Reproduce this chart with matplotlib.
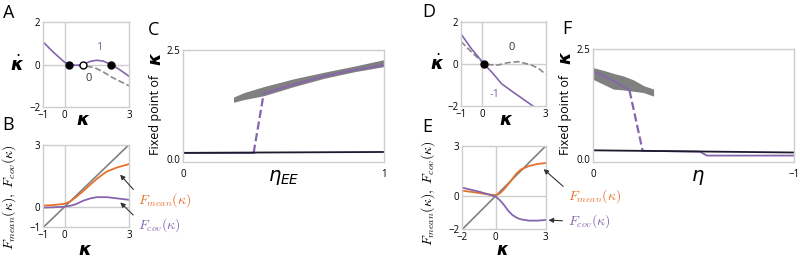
import numpy as np
import matplotlib.pyplot as plt

plt.rcParams["font.family"] = ["Open Sans", "DejaVu Sans"]

PURPLE = "#8566ad"
ORANGE = "#e5722c"
GRAY = "#808080"
LIGHT = "#cdcdcd"
DARK = "#1c1a2c"

# %%
# Panel A: kappa dot vs kappa (eta = 1 solid, eta = 0 dashed)
a_k1 = [-1, -0.5, 0, 0.22, 0.5, 0.85, 1.2, 1.5, 1.8, 2.15, 2.5, 3]
a_v1 = [1.05, 0.55, 0.1, 0, -0.04, 0, 0.15, 0.2, 0.16, 0, -0.2, -0.55]
a_k0 = [0.2, 0.6, 1.0, 1.4, 1.8, 2.2, 2.6, 3]
a_v0 = [0, -0.05, -0.08, -0.15, -0.35, -0.6, -0.8, -1.0]
a_stable = [0.22, 2.15]
a_unstable = [0.85]

# Panel B: transfer functions
b_k = [-1, -0.5, 0, 0.25, 0.5, 0.87, 1.2, 1.5, 1.96, 2.45, 3]
b_mean = [0.05, 0.08, 0.14, 0.25, 0.44, 0.76, 1.07, 1.35, 1.7, 1.9, 2.06]
b_cov = [-0.05, -0.03, 0.0, 0.04, 0.11, 0.29, 0.4, 0.46, 0.46, 0.4, 0.33]

# Panel C: fixed points vs eta_EE
c_band_eta = [0.25, 0.3, 0.4, 0.55, 0.7, 0.85, 1.0]
c_band_lo = [1.3, 1.36, 1.45, 1.66, 1.85, 2.0, 2.12]
c_band_hi = [1.42, 1.52, 1.66, 1.84, 1.99, 2.13, 2.28]
c_hi_eta = [0.4, 0.55, 0.7, 0.85, 1.0]
c_hi_k = [1.5, 1.71, 1.9, 2.04, 2.16]
c_lo_eta = [0, 0.35]
c_lo_k = [0.14, 0.14]
c_un_eta = [0.35, 0.4]
c_un_k = [0.14, 1.5]
c_mf_eta = [0, 1]
c_mf_k = [0.14, 0.16]

# Panel D: kappa dot vs kappa (eta = -1 solid, eta = 0 dashed)
d_k1 = [-1, -0.5, 0, 0.08, 0.5, 0.92, 1.4, 1.9, 2.4]
d_v1 = [1.41, 0.7, 0.1, 0, -0.45, -0.95, -1.3, -1.65, -2.0]
d_k0 = [-1, -0.5, 0, 0.08, 0.4, 0.76, 1.2, 1.7, 2.33, 2.7, 3]
d_v0 = [1.05, 0.55, 0.08, 0, -0.05, -0.06, 0.05, 0.1, -0.06, -0.25, -0.5]
d_stable = [0.08]

# Panel E: transfer functions
e_k = [-2, -1.5, -1, -0.5, 0, 0.25, 0.5, 0.75, 1, 1.25, 1.5, 2, 2.5, 3]
e_mean = [0.32, 0.25, 0.18, 0.1, 0.05, 0.15, 0.4, 0.7, 1.02, 1.35, 1.58, 1.8, 1.92, 1.98]
e_cov = [0.5, 0.38, 0.26, 0.12, -0.04, -0.25, -0.54, -0.88, -1.14, -1.3, -1.4, -1.48, -1.48, -1.44]

# Panel F: fixed points vs eta
f_band_eta = [0, -0.05, -0.1, -0.15, -0.2, -0.25, -0.3]
f_band_lo = [1.81, 1.7, 1.59, 1.57, 1.54, 1.51, 1.43]
f_band_hi = [2.08, 2.02, 1.95, 1.89, 1.8, 1.67, 1.59]
f_hi_eta = [0, -0.1, -0.18]
f_hi_k = [2.0, 1.78, 1.56]
f_un_eta = [-0.18, -0.245]
f_un_k = [1.56, 0.19]
f_lo_eta = [-0.245, -0.53, -0.565, -1]
f_lo_k = [0.18, 0.16, 0.07, 0.07]
f_mf_eta = [0, -1]
f_mf_k = [0.19, 0.14]

W, H = 800, 258
fig = plt.figure(figsize=(W / 100, H / 100), dpi=100)


def px_axes(l, t, r, b):
    ax = fig.add_axes([l / W, 1 - b / H, (r - l) / W, (b - t) / H])
    for s in ax.spines.values():
        s.set_color(LIGHT)
        s.set_linewidth(1.0)
    ax.tick_params(length=0, labelsize=7, pad=2)
    return ax


def letter(x, y, s):
    fig.text(x / W, 1 - y / H, s, fontsize=13, ha="left", va="center")


def xlab(ax, s, x, y, size=13):
    ax.set_xlabel(s, fontsize=size, va="center")
    ax.xaxis.set_label_coords(x, y)


kap = r"$\boldsymbol{\kappa}$"
kdot = r"$\dot{\boldsymbol{\kappa}}$"

# %%
# A
ax = px_axes(43.3, 22, 129, 107)
ax.axhline(0, color=LIGHT, lw=1, zorder=0)
ax.axvline(0, color=LIGHT, lw=1, zorder=0)
ax.plot(a_k0, a_v0, color="#8a8a8a", ls="--", lw=1.2)
ax.plot(a_k1, a_v1, color=PURPLE, lw=1.2)
ax.plot(a_stable, [0] * len(a_stable), "o", ms=5, color="k", zorder=5)
ax.plot(a_unstable, [0] * len(a_unstable), "o", ms=5, mfc="white", mec="k", mew=1, zorder=5)
ax.text(1.6, 0.8, "1", color=PURPLE, fontsize=8, ha="center", va="center")
ax.text(1.1, -0.68, "0", color="#333333", fontsize=8, ha="center", va="center")
ax.set(xlim=(-1, 3), ylim=(-2, 2), xticks=[-1, 0, 3], yticks=[-2, 0, 2])
ax.set_ylabel(kdot, fontsize=13, rotation=0, va="center", ha="center")
ax.yaxis.set_label_coords(-0.31, 0.5)
xlab(ax, kap, 0.46, -0.15)

# B
ax = px_axes(43.3, 144.7, 129, 227.3)
ax.axhline(0, color=LIGHT, lw=1, zorder=0)
ax.axvline(0, color=LIGHT, lw=1, zorder=0)
ax.plot([-1, 3], [-1, 3], color=GRAY, lw=1.2)
ax.plot(b_k, b_mean, color=ORANGE, lw=1.3)
ax.plot(b_k, b_cov, color=PURPLE, lw=1.3)
ax.set(xlim=(-1, 3), ylim=(-1, 3), xticks=[-1, 0, 3], yticks=[-1, 0, 3])
ax.set_ylabel(r"$F_{mean}(\kappa),\ F_{cov}(\kappa)$", fontsize=10, math_fontfamily="cm")
ax.yaxis.set_label_coords(-0.3, 0.36)
xlab(ax, kap, 0.49, -0.27)
arrow = dict(arrowstyle="-|>", color="#333333", lw=0.8, mutation_scale=7, relpos=(0, 0.8))
ax.annotate(r"$F_{mean}(\kappa)$", xy=(2.5, 1.65), xytext=(138, H - 200),
            textcoords="figure pixels", color=ORANGE, fontsize=10, math_fontfamily="cm",
            va="center", arrowprops=arrow, annotation_clip=False)
ax.annotate(r"$F_{cov}(\kappa)$", xy=(2.5, 0.3), xytext=(138, H - 225),
            textcoords="figure pixels", color=PURPLE, fontsize=10, math_fontfamily="cm",
            va="center", arrowprops=arrow, annotation_clip=False)

# C
ax = px_axes(183.3, 50, 384.3, 162)
ax.fill_between(c_band_eta, c_band_lo, c_band_hi, color=GRAY, lw=0)
ax.plot(c_hi_eta, c_hi_k, color=PURPLE, lw=1.3)
ax.plot(c_un_eta, c_un_k, color=PURPLE, ls="--", lw=1.6)
ax.plot(c_lo_eta, c_lo_k, color=PURPLE, lw=1.3)
ax.plot(c_mf_eta, c_mf_k, color=DARK, lw=1.3)
ax.set(xlim=(0, 1), ylim=(-0.07, 2.5), xticks=[0, 1], yticks=[0, 2.5])
ax.set_yticklabels(["0.0", "2.5"])
ax.tick_params(axis="x", pad=5)
xlab(ax, r"$\eta_{EE}$", 0.5, -0.14, size=14)
ax.text(-0.136, 0.42, "Fixed point of", rotation=90, fontsize=9, transform=ax.transAxes,
        ha="center", va="center")
ax.text(-0.136, 0.92, kap, rotation=90, fontsize=13, transform=ax.transAxes,
        ha="center", va="center")

# D
ax = px_axes(461, 21.5, 545.7, 106)
ax.axhline(0, color=LIGHT, lw=1, zorder=0)
ax.axvline(0, color=LIGHT, lw=1, zorder=0)
ax.plot(d_k0, d_v0, color="#8a8a8a", ls="--", lw=1.2)
ax.plot(d_k1, d_v1, color=PURPLE, lw=1.2)
ax.plot(d_stable, [0] * len(d_stable), "o", ms=5, color="k", zorder=5)
ax.text(1.41, 0.78, "0", color="#333333", fontsize=8, ha="center", va="center")
ax.text(0.57, -1.44, "-1", color=PURPLE, fontsize=8, ha="center", va="center")
ax.set(xlim=(-1, 3), ylim=(-2, 2), xticks=[-1, 0, 3], yticks=[-2, 0, 2])
ax.set_ylabel(kdot, fontsize=13, rotation=0, va="center", ha="center")
ax.yaxis.set_label_coords(-0.28, 0.5)
xlab(ax, kap, 0.53, -0.16)

# E
ax = px_axes(462.3, 146, 545.7, 229.3)
ax.axhline(0, color=LIGHT, lw=1, zorder=0)
ax.axvline(0, color=LIGHT, lw=1, zorder=0)
ax.plot([-2, 3], [-2, 3], color=GRAY, lw=1.2)
ax.plot(e_k, e_mean, color=ORANGE, lw=1.3)
ax.plot(e_k, e_cov, color=PURPLE, lw=1.3)
ax.set(xlim=(-2, 3), ylim=(-2, 3), xticks=[-2, 0, 3], yticks=[-2, 0, 3])
ax.set_ylabel(r"$F_{mean}(\kappa),\ F_{cov}(\kappa)$", fontsize=10, math_fontfamily="cm")
ax.yaxis.set_label_coords(-0.3, 0.44)
xlab(ax, kap, 0.48, -0.26, size=12)
ax.annotate(r"$F_{mean}(\kappa)$", xy=(2.75, 1.72), xytext=(568, H - 196),
            textcoords="figure pixels", color=ORANGE, fontsize=10, math_fontfamily="cm",
            va="center", arrowprops=arrow, annotation_clip=False)
ax.annotate(r"$F_{cov}(\kappa)$", xy=(3.0, -1.44), xytext=(568, H - 221),
            textcoords="figure pixels", color=PURPLE, fontsize=10, math_fontfamily="cm",
            va="center", arrowprops=dict(arrow, relpos=(0, 0.5)), annotation_clip=False)

# F
ax = px_axes(593.3, 49.3, 794.3, 161.7)
ax.fill_between(f_band_eta, f_band_lo, f_band_hi, color=GRAY, lw=0)
ax.plot(f_hi_eta, f_hi_k, color=PURPLE, lw=1.3)
ax.plot(f_un_eta, f_un_k, color=PURPLE, ls="--", lw=1.6)
ax.plot(f_lo_eta, f_lo_k, color=PURPLE, lw=1.3)
ax.plot(f_mf_eta, f_mf_k, color=DARK, lw=1.3)
ax.set(xlim=(0, -1), ylim=(-0.07, 2.5), xticks=[0, -1], yticks=[0, 2.5])
ax.set_yticklabels(["0.0", "2.5"])
ax.tick_params(axis="x", pad=5)
xlab(ax, r"$\eta$", 0.52, -0.14, size=14)
ax.text(-0.136, 0.42, "Fixed point of", rotation=90, fontsize=9, transform=ax.transAxes,
        ha="center", va="center")
ax.text(-0.136, 0.92, kap, rotation=90, fontsize=13, transform=ax.transAxes,
        ha="center", va="center")

letter(3, 13, "A")
letter(2, 125, "B")
letter(148, 30, "C")
letter(422, 12, "D")
letter(422, 127, "E")
letter(562, 29, "F")

fig.savefig("out.png", dpi=100)
